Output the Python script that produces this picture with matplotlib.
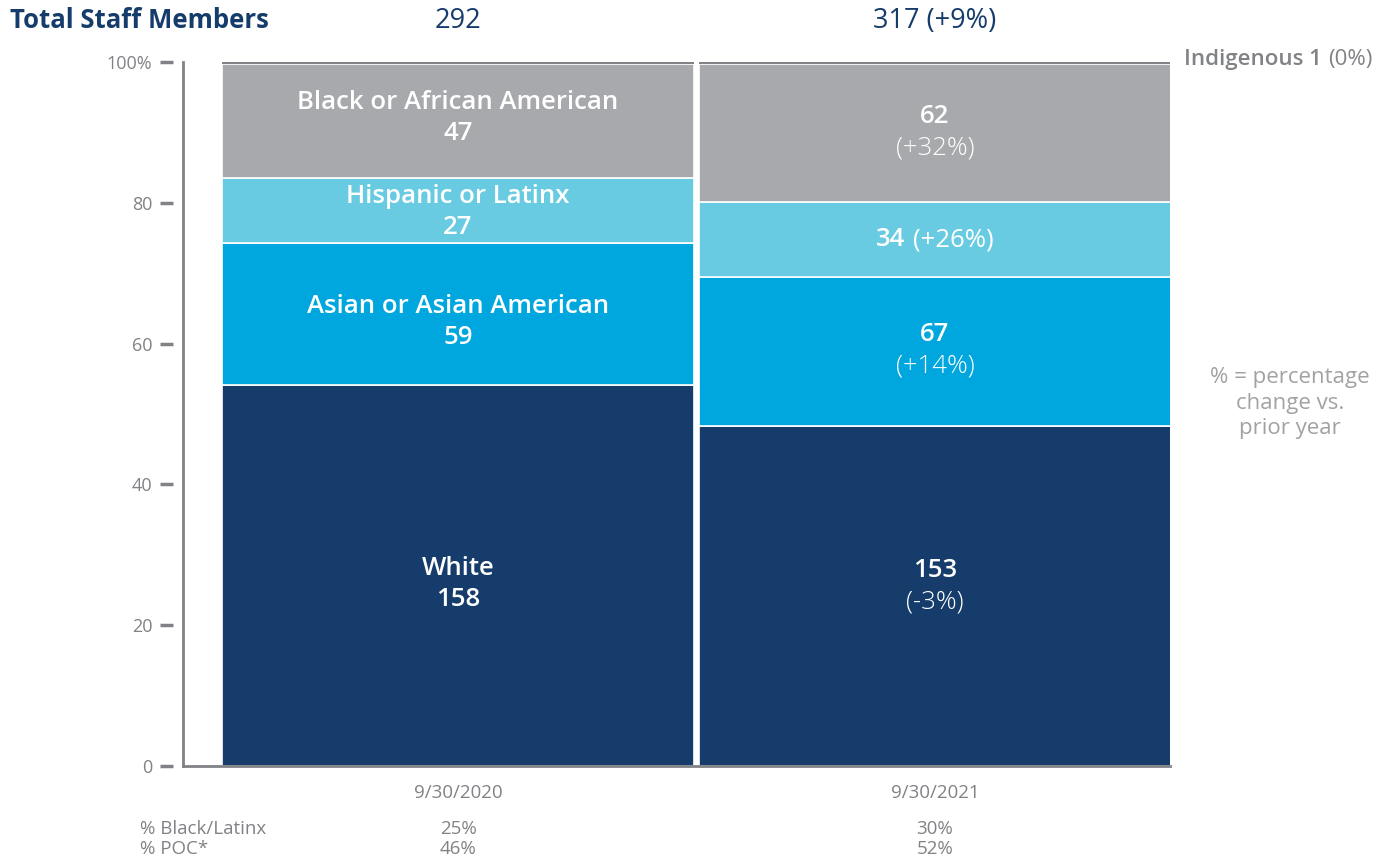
import matplotlib.pyplot as plt
import numpy as np

# data
years = ["9/30/2020", "9/30/2021"]
groups = ["White", "Asian or Asian American", "Hispanic or Latinx",
          "Black or African American", "Indigenous"]
white = [158, 153]
asian = [59, 67]
hispanic = [27, 34]
black = [47, 62]
indigenous = [1, 1]

colors = ["#163c6b", "#00a7de", "#68cbe2", "#a7a9ac", "#808285"]
gray = "#808285"
navy = "#163c6b"

plt.rcParams['font.family'] = ['Open Sans', 'DejaVu Sans']

counts = np.array([white, asian, hispanic, black, indigenous], dtype=float)
totals = counts.sum(axis=0)
pct = counts / totals * 100
change = (counts[:, 1] - counts[:, 0]) / counts[:, 0] * 100
total_change = (totals[1] - totals[0]) / totals[0] * 100
black_latinx = (counts[2] + counts[3]) / totals * 100
poc = (totals - counts[0]) / totals * 100

fig = plt.figure(figsize=(13.93, 8.59), dpi=100)
ax = fig.add_axes([0.1314, 0.1082, 0.7085, 0.8196])

x = np.arange(len(years))
width = 0.99
bottom = np.zeros(len(years))
for i in range(len(groups)):
    ax.bar(x, pct[i], width, bottom=bottom, color=colors[i],
           edgecolor="white", linewidth=1.2 if i < 4 else 0)
    bottom += pct[i]

ax.set_xlim(-0.5765, 1.4927)
ax.set_ylim(0, 100)

# axes styling
for s in ["top", "right"]:
    ax.spines[s].set_visible(False)
ax.spines["left"].set_color(gray)
ax.spines["bottom"].set_color(gray)
ax.spines["left"].set_linewidth(2)
ax.spines["bottom"].set_linewidth(2)

yt = [0, 20, 40, 60, 80, 100]
ax.set_yticks(yt)
ax.set_yticklabels(["0", "20", "40", "60", "80", "100%"], color=gray,
                   fontsize=13)
ax.tick_params(axis="y", length=0, pad=22)
ax.hlines(yt, -0.0233, -0.0101, transform=ax.get_yaxis_transform(),
          color=gray, lw=2.5, clip_on=False)

ax.set_xticks(x)
ax.set_xticklabels(years, color=gray, fontsize=13.5)
ax.tick_params(axis="x", length=0, pad=13)


def pair(t1, t2, x0, y0, transform, size, w1, color, gap=6, size2=None):
    # two texts side by side, centred together on (x0, y0)
    a = fig.text(x0, y0, t1, transform=transform, fontsize=size,
                 fontweight=w1, color=color, ha="left", va="center")
    b = fig.text(x0, y0, t2, transform=transform, fontsize=size2 or size,
                 color=color, ha="left", va="center")
    fig.canvas.draw()
    wa = a.get_window_extent().width
    wb = b.get_window_extent().width
    total = wa + gap + wb
    px, py = transform.transform((x0, y0))
    inv = transform.inverted()
    a.set_position(inv.transform((px - total / 2, py)))
    b.set_position(inv.transform((px - total / 2 + wa + gap, py)))
    return a, b


# segment labels
lab_kw = dict(ha="center", va="center", color="white")
mid = np.cumsum(pct, axis=0) - pct / 2
nudge = [[-1.2, 1.4], [-1.1, 0.2], [-0.2, 0.0], [0.4, 0.1]]
for i in range(4):
    y0 = mid[i, 0] + nudge[i][0]
    ax.text(0, y0 + 2.2, groups[i], fontsize=18.5, fontweight="semibold",
            **lab_kw)
    ax.text(0, y0 - 2.2, f"{int(counts[i, 0])}", fontsize=18.5,
            fontweight="semibold", **lab_kw)
for i in [0, 1, 3]:
    y1 = mid[i, 1] + nudge[i][1]
    ax.text(1, y1 + 2.2, f"{int(counts[i, 1])}", fontsize=18.5,
            fontweight="semibold", **lab_kw)
    ax.text(1, y1 - 2.2, f"({change[i]:+.0f}%)", fontsize=18.5,
            fontweight="light", **lab_kw)
pair(f"{int(counts[2, 1])}", f"({change[2]:+.0f}%)", 1, mid[2, 1],
     ax.transData, 18.5, "semibold", "white", gap=7)

# header
fig.text(10 / 1393, 1 - 21 / 859, "Total Staff Members", fontsize=18.5,
         fontweight="bold", color=navy, va="center", ha="left")
ax.annotate(f"{int(totals[0])}", (0, 1), xycoords=ax.get_xaxis_transform(),
            xytext=(0, 41), textcoords="offset pixels", ha="center",
            va="center", fontsize=19.5, color=navy)
ax.annotate(f"{int(totals[1])} ({total_change:+.0f}%)", (1, 1),
            xycoords=ax.get_xaxis_transform(), xytext=(0, 41),
            textcoords="offset pixels", ha="center", va="center",
            fontsize=19.5, color=navy)

# indigenous note
pair(f"{groups[4]} {int(counts[4, 1])}", f"({change[4]:.0f}%)",
     1278 / 1393, 1 - 60 / 859, fig.transFigure, 16, "semibold",
     gray, gap=6)

fig.text(1290 / 1393, 1 - 403 / 859, "% = percentage\nchange vs.\nprior year",
         fontsize=16, color="#a0a2a4", ha="center",
         va="center", linespacing=1.3)

# bottom rows
fig.text(140 / 1393, 1 - 829 / 859, "% Black/Latinx", fontsize=13.5,
         color=gray, va="center")
fig.text(140 / 1393, 1 - 849 / 859, "% POC*", fontsize=13.5,
         color=gray, va="center")
for j in range(len(years)):
    ax.annotate(f"{black_latinx[j]:.0f}%", (j, 0),
                xycoords=ax.get_xaxis_transform(), xytext=(0, -63),
                textcoords="offset pixels", ha="center", va="center",
                fontsize=13.5, color=gray)
    ax.annotate(f"{poc[j]:.0f}%", (j, 0),
                xycoords=ax.get_xaxis_transform(), xytext=(0, -83),
                textcoords="offset pixels", ha="center", va="center",
                fontsize=13.5, color=gray)

plt.savefig("out.png")
